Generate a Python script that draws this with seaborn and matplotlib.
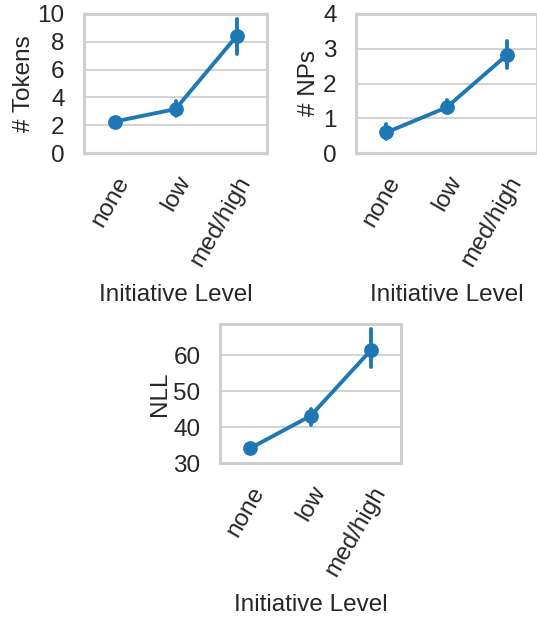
import numpy as np
import pandas as pd
import seaborn as sns
import matplotlib.pyplot as plt

# Dane: średnia oraz granice przedziału ufności
levels = ["none", "low", "med/high"]

tokens_mean = [2.26, 3.16, 8.40]
tokens_lo = [2.00, 2.67, 7.14]
tokens_hi = [2.52, 3.76, 9.63]

nps_mean = [0.59, 1.31, 2.82]
nps_lo = [0.40, 1.14, 2.45]
nps_hi = [0.83, 1.52, 3.22]

nll_mean = [34.1, 43.1, 61.4]
nll_lo = [33.3, 40.7, 56.6]
nll_hi = [34.9, 45.1, 67.2]


def long_table(mean, lo, hi):
    rows = []
    for lev, m, l, h in zip(levels, mean, lo, hi):
        for v in (l, m, h):
            rows.append({"level": lev, "value": v})
    return pd.DataFrame(rows)


sns.set_theme(style="whitegrid")
plt.rcParams["font.family"] = ["Liberation Sans", "DejaVu Sans"]
plt.rcParams["text.color"] = "#262626"
plt.rcParams["axes.labelcolor"] = "#262626"
plt.rcParams["xtick.color"] = "#262626"
plt.rcParams["ytick.color"] = "#262626"

W, H = 537, 617
fig = plt.figure(figsize=(W / 100, H / 100), dpi=100)
FS = 17.5


def box(left, right, top, bottom):
    return [left / W, 1 - bottom / H, (right - left) / W, (bottom - top) / H]


panels = [
    (box(84, 267, 14, 153), tokens_mean, tokens_lo, tokens_hi, "# Tokens", (0, 10), [0, 2, 4, 6, 8, 10]),
    (box(356, 537, 14, 153), nps_mean, nps_lo, nps_hi, "# NPs", (0, 4), [0, 1, 2, 3, 4]),
    (box(220, 401, 324, 463), nll_mean, nll_lo, nll_hi, "NLL", (30, 68.7), [30, 40, 50, 60]),
]

for rect, mean, lo, hi, ylab, ylim, yticks in panels:
    ax = fig.add_axes(rect)
    df = long_table(mean, lo, hi)
    sns.pointplot(data=df, x="level", y="value", order=levels, ax=ax,
                  estimator="median", errorbar=lambda v: (v.min(), v.max()),
                  color="#1f77b4", linewidth=2.8, markersize=8.5)
    ax.set_ylim(*ylim)
    ax.set_yticks(yticks)
    ax.set_xlim(-0.5, 2.5)
    ax.set_xlabel("Initiative Level", fontsize=FS, labelpad=10)
    ax.set_ylabel(ylab, fontsize=FS, labelpad=2)
    ax.grid(axis="y", color="#d4d4d4", linewidth=1.5)
    ax.grid(axis="x", visible=False)
    for s in ax.spines.values():
        s.set_color("#cfcfcf")
        s.set_linewidth(2.2)
    ax.tick_params(axis="y", labelsize=FS, pad=14, length=0)
    ax.tick_params(axis="x", labelsize=FS, pad=14, length=0)
    for lab in ax.get_xticklabels():
        lab.set_rotation(60)
        lab.set_ha("right")
        lab.set_rotation_mode("anchor")

fig.savefig("out.png", dpi=100)
